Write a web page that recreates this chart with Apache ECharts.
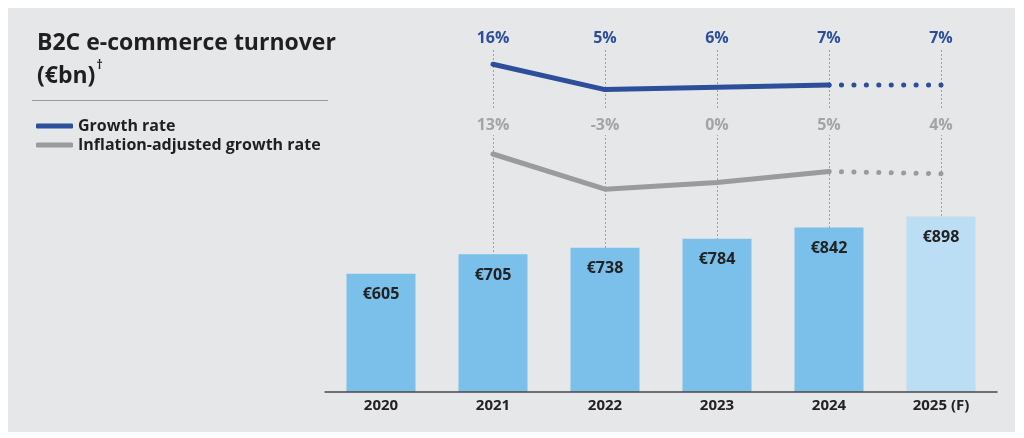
<!DOCTYPE html>
<html>
<head>
<meta charset="utf-8">
<script src="https://cdn.jsdelivr.net/npm/echarts@6/dist/echarts.min.js"></script>
<style>
    html, body { margin: 0; padding: 0; background: #ffffff; }
    #panel { position: absolute; left: 8px; top: 8px; width: 1007px; height: 424px; background: #e6e7e9; }
    #chart { position: absolute; left: 0; top: 0; width: 1024px; height: 438px; }
</style>
</head>
<body>
<div id="panel"></div>
<div id="chart"></div>
<script>
// 数据
var years = ['2020', '2021', '2022', '2023', '2024', '2025 (F)'];
var turnover = [605, 705, 738, 784, 842, 898];
var forecastIndex = 5;
var growth = [null, 16, 5, 6, 7, 7];
var growthReal = [null, 13, -3, 0, 5, 4];
var growthLabels = ['', '16%', '5%', '6%', '7%', '7%'];
var realLabels = ['', '13%', '-3%', '0%', '5%', '4%'];

var BLUE = '#2d4e9a';
var GREY = '#9a9b9d';
var BAR = '#7bc0ea';
var BAR_F = '#bcdef5';
var PANEL = '#e6e7e9';
var FONT = 'Open Sans';

// 实线 / 虚线（预测段）拆分
function solidPart(arr) {
    return arr.map(function (v, i) { return i <= forecastIndex - 1 ? v : null; });
}
function dottedPart(arr) {
    return arr.map(function (v, i) { return i >= forecastIndex - 1 ? v : null; });
}

var barData = turnover.map(function (v, i) {
    return i === forecastIndex ? { value: v, itemStyle: { color: BAR_F } } : v;
});

var guideLines = [];
for (var i = 0; i < years.length; i++) {
    if (growthLabels[i] !== '') guideLines.push({ xAxis: i });
}

var myChart = echarts.init(document.getElementById('chart'));

var option = {
    animation: false,
    textStyle: { fontFamily: FONT },
    title: {
        left: 32,
        top: 22,
        text: '{t|B2C e-commerce turnover}\n{t|(€bn)}{s|†}',
        textStyle: {
            rich: {
                t: { fontFamily: FONT, fontSize: 23, fontWeight: 'bold', color: '#1f1f1f', lineHeight: 33 },
                s: { fontFamily: FONT, fontSize: 12, fontWeight: 'bold', color: '#1f1f1f', verticalAlign: 'top', lineHeight: 33, padding: [0, 0, 10, 1] }
            }
        }
    },
    graphic: [{
        type: 'line',
        shape: { x1: 32, y1: 100.5, x2: 328, y2: 100.5 },
        style: { stroke: '#9a9a9a', lineWidth: 1 }
    }],
    legend: {
        orient: 'vertical',
        left: 31,
        top: 113,
        itemWidth: 37,
        itemHeight: 5,
        itemGap: 3,
        textStyle: { fontFamily: FONT, fontSize: 16, fontWeight: 'bold', color: '#1f1f1f', lineHeight: 16 },
        data: [
            { name: 'Growth rate', icon: 'roundRect', itemStyle: { color: BLUE } },
            { name: 'Inflation-adjusted growth rate', icon: 'roundRect', itemStyle: { color: GREY } }
        ]
    },
    grid: { left: 325, right: 27, top: 50, bottom: 46 },
    xAxis: [{
        type: 'category',
        data: years,
        z: 10,
        axisLine: { lineStyle: { color: '#4a4a4a', width: 1.5 } },
        axisTick: { show: false },
        axisLabel: { fontFamily: FONT, fontSize: 15, fontWeight: 'bold', color: '#222', margin: 6 }
    }, {
        type: 'category',
        data: years,
        position: 'top',
        z: 10,
        axisLine: { show: false },
        axisTick: { show: false },
        axisLabel: {
            fontFamily: FONT, fontSize: 16, fontWeight: 'bold', color: BLUE, margin: 4,
            formatter: function (v, idx) { return growthLabels[idx]; }
        }
    }, {
        type: 'category',
        data: years,
        position: 'top',
        offset: -87,
        z: 10,
        axisLine: { show: false },
        axisTick: { show: false },
        axisLabel: {
            fontFamily: FONT, fontSize: 16, fontWeight: 'bold', color: '#a3a4a6', margin: 2,
            backgroundColor: PANEL, padding: [8, 5, 2, 5],
            formatter: function (v, idx) { return realLabels[idx]; }
        }
    }],
    yAxis: [
        { type: 'value', min: 0, max: 1750, show: false, splitLine: { show: false } },
        { type: 'value', min: -126.48, max: 22.22, show: false, splitLine: { show: false } },
        { type: 'value', min: -95.18, max: 60.27, show: false, splitLine: { show: false } }
    ],
    series: [{
        name: 'Turnover',
        type: 'bar',
        data: barData,
        barWidth: 69,
        z: 2,
        itemStyle: { color: BAR },
        label: {
            show: true,
            position: 'insideTop',
            distance: 13,
            formatter: '€{c}',
            fontFamily: FONT, fontSize: 16, fontWeight: 'bold', color: '#222'
        },
        markLine: {
            z: 1,
            silent: true,
            symbol: 'none',
            label: { show: false },
            lineStyle: { color: '#a0a0a0', type: [2, 2], width: 1 },
            data: guideLines
        }
    }, {
        name: 'Growth rate',
        type: 'line',
        yAxisIndex: 1,
        data: solidPart(growth),
        color: BLUE,
        symbol: 'none',
        z: 3,
        lineStyle: { color: BLUE, width: 5, cap: 'round', join: 'round' }
    }, {
        name: 'Growth rate',
        type: 'line',
        yAxisIndex: 1,
        data: dottedPart(growth),
        color: BLUE,
        symbol: 'none',
        z: 3,
        lineStyle: { color: BLUE, width: 5, cap: 'round', type: [0.1, 12.34] }
    }, {
        name: 'Inflation-adjusted growth rate',
        type: 'line',
        yAxisIndex: 2,
        data: solidPart(growthReal),
        color: GREY,
        symbol: 'none',
        z: 3,
        lineStyle: { color: GREY, width: 5, cap: 'round', join: 'round' }
    }, {
        name: 'Inflation-adjusted growth rate',
        type: 'line',
        yAxisIndex: 2,
        data: dottedPart(growthReal),
        color: GREY,
        symbol: 'none',
        z: 3,
        lineStyle: { color: GREY, width: 5, cap: 'round', type: [0.1, 12.34] }
    }]
};

myChart.setOption(option);
</script>
</body>
</html>
